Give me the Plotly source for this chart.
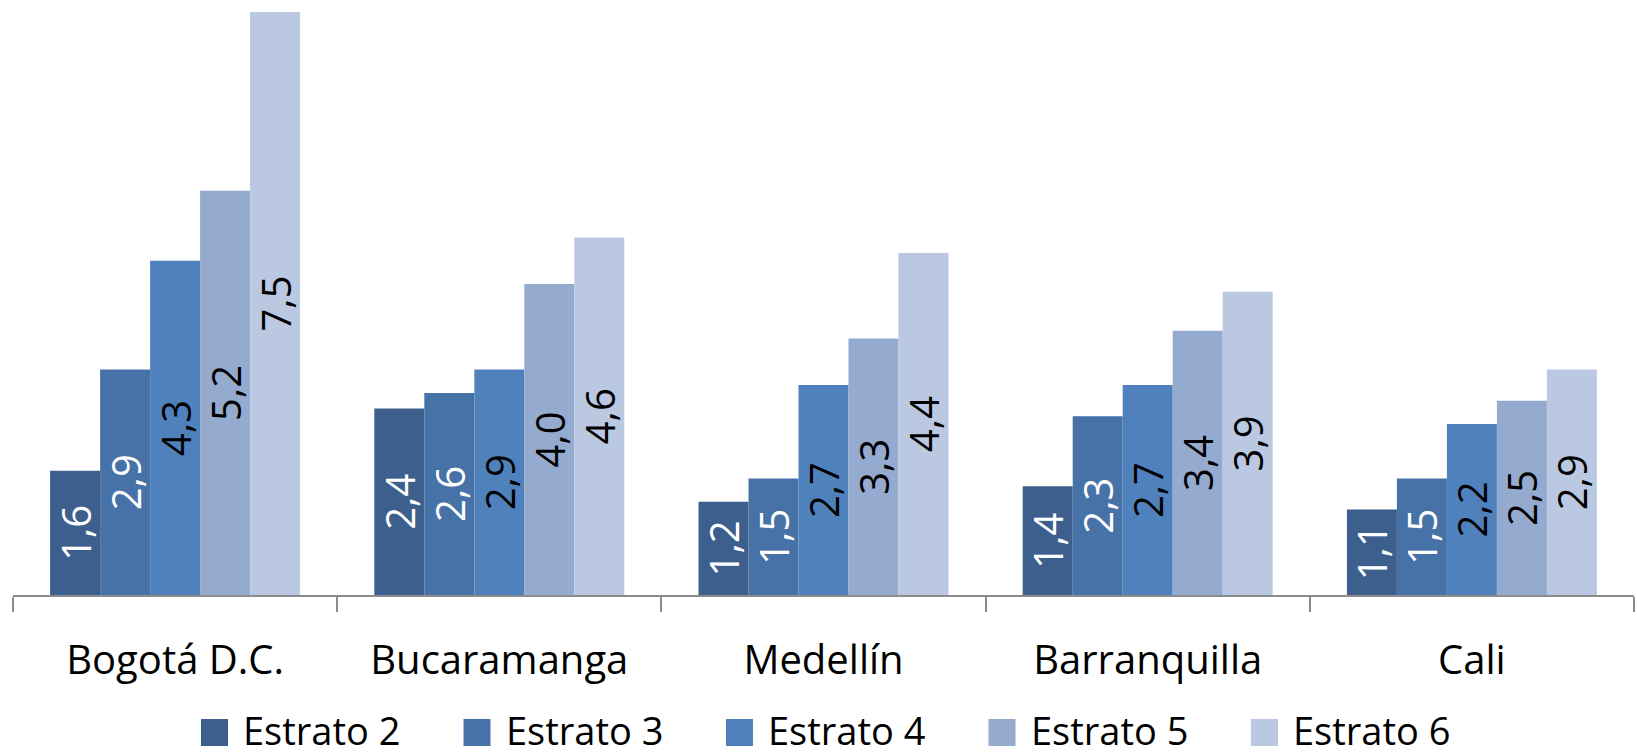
import plotly.graph_objects as go

# data
ciudades = ["Bogotá D.C.", "Bucaramanga", "Medellín", "Barranquilla", "Cali"]
estratos = ["Estrato 2", "Estrato 3", "Estrato 4", "Estrato 5", "Estrato 6"]
estrato_2 = [1.6, 2.4, 1.2, 1.4, 1.1]
estrato_3 = [2.9, 2.6, 1.5, 2.3, 1.5]
estrato_4 = [4.3, 2.9, 2.7, 2.7, 2.2]
estrato_5 = [5.2, 4.0, 3.3, 3.4, 2.5]
estrato_6 = [7.5, 4.6, 4.4, 3.9, 2.9]
series = [estrato_2, estrato_3, estrato_4, estrato_5, estrato_6]

colores = ["#3D5F8E", "#4672A8", "#4F81BD", "#95AACF", "#BAC8E1"]
color_texto = ["white", "white", "black", "black", "black"]

W, H = 1637, 756
ML, MR, MT, MB = 13, 3, 12, 161
FONT = "Open Sans"

fig = go.Figure()
for nombre, vals, col, tcol in zip(estratos, series, colores, color_texto):
    fig.add_trace(go.Bar(
        x=ciudades, y=vals, name=nombre,
        marker=dict(color=col, line=dict(width=0)),
        texttemplate="%{y:.1f}", textposition="inside",
        insidetextanchor="middle", textangle=-90,
        textfont=dict(family=FONT, size=40, color=tcol),
        showlegend=False,
    ))

# px -> paper helpers
pw, ph = W - ML - MR, H - MT - MB
def px_x(v):
    return (v - ML) / pw
def px_y(v):
    return (H - MB - v) / ph

# custom legend (big square swatches)
shapes, annots = [], []
for i, (nombre, col) in enumerate(zip(estratos, colores)):
    x0 = 201 + 262.5 * i
    shapes.append(dict(type="rect", xref="paper", yref="paper",
                       x0=px_x(x0), x1=px_x(x0 + 27), y0=px_y(746), y1=px_y(719),
                       fillcolor=col, line=dict(width=0)))
    annots.append(dict(xref="paper", yref="paper", x=px_x(x0 + 40), y=px_y(730),
                       text=nombre, showarrow=False, xanchor="left", yanchor="middle",
                       font=dict(family=FONT, size=38, color="black")))

fig.update_layout(
    width=W, height=H,
    margin=dict(l=ML, r=MR, t=MT, b=MB),
    barmode="group", bargap=0.229, bargroupgap=0,
    separators=",.",
    plot_bgcolor="white", paper_bgcolor="white",
    font=dict(family=FONT, size=40, color="black"),
    uniformtext=dict(minsize=40, mode="show"),
    shapes=shapes, annotations=annots,
    xaxis=dict(showline=True, linecolor="#8C8C8C", linewidth=1.5,
               ticks="outside", tickson="boundaries", ticklen=15,
               tickcolor="#8C8C8C", tickwidth=1.5,
               tickfont=dict(family=FONT, size=40, color="black"),
               ticklabelstandoff=29, showgrid=False),
    yaxis=dict(range=[0, 7.5], visible=False, showgrid=False, zeroline=False),
)

# drop the default 8px body margin so the figure fills the window
fig.write_html("out.html", config={"displayModeBar": False},
               post_script="document.body.style.margin='0';")
